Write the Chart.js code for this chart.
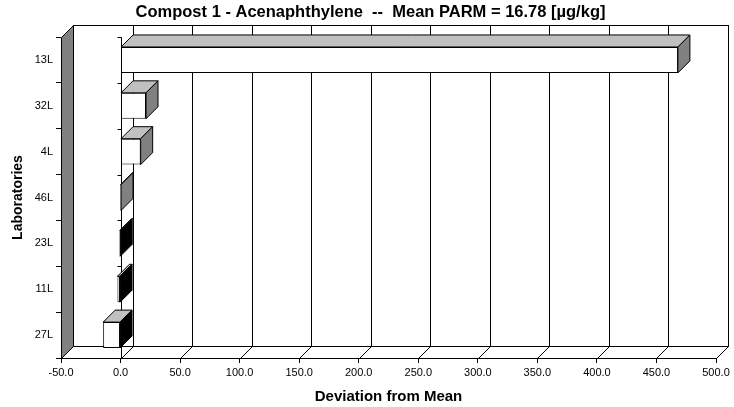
<!DOCTYPE html>
<html>
<head>
<meta charset="utf-8">
<script src="https://cdn.jsdelivr.net/npm/chart.js@4"></script>
<style>
  html, body { margin: 0; padding: 0; background: #fff; }
  #wrap { width: 734px; height: 407px; }
</style>
</head>
<body>
<div id="wrap"><canvas id="devChart"></canvas></div>
<script>
const labs = ['13L', '32L', '4L', '46L', '23L', '11L', '27L'];
const deviation = [468.0, 21.4, 16.9, 0.1, -0.3, -2.6, -14.6];
const xMin = -50, xMax = 500, xStep = 50;

const FONT = 'Arial, "Liberation Sans", sans-serif';
const depth = 12;

function poly(ctx, pts, fill) {
    ctx.beginPath();
    ctx.moveTo(pts[0][0], pts[0][1]);
    for (let i = 1; i < pts.length; i++) ctx.lineTo(pts[i][0], pts[i][1]);
    ctx.closePath();
    if (fill) { ctx.fillStyle = fill; ctx.fill(); }
    ctx.stroke();
}

function line(ctx, x1, y1, x2, y2) {
    ctx.beginPath();
    ctx.moveTo(x1, y1);
    ctx.lineTo(x2, y2);
    ctx.stroke();
}

const snap = v => Math.round(v) + 0.5;

// back wall, floor, side wall and the zero line, behind the bars
const walls = {
    id: 'walls',
    beforeDatasetsDraw(chart) {
        const { ctx, chartArea: a, scales: { x } } = chart;
        const L = snap(a.left), R = snap(a.right), T = snap(a.top), B = snap(a.bottom);
        const d = depth;
        ctx.save();
        ctx.strokeStyle = '#000';
        ctx.lineWidth = 1;

        ctx.fillStyle = '#fff';
        ctx.fillRect(L + d, T - d, R - L, B - T);
        ctx.strokeRect(L + d, T - d, R - L, B - T);
        poly(ctx, [[L, B], [R, B], [R + d, B - d], [L + d, B - d]], '#fff');

        x.ticks.forEach(t => {
            const px = snap(x.getPixelForValue(t.value));
            line(ctx, px + d, T - d, px + d, B - d);
            line(ctx, px, B, px + d, B - d);
        });

        poly(ctx, [[L, T], [L + d, T - d], [L + d, B - d], [L, B]], '#808080');
        line(ctx, L, B, R, B);

        const x0 = snap(x.getPixelForValue(0));
        line(ctx, x0, T, x0, B);
        const step = (a.bottom - a.top) / labs.length;
        for (let i = 0; i <= labs.length; i++) {
            const py = snap(a.top + i * step);
            line(ctx, x0 - 4, py, x0, py);
        }
        ctx.restore();
    },
    // top and end faces of each bar
    afterDatasetsDraw(chart) {
        const { ctx } = chart;
        const d = depth;
        const meta = chart.getDatasetMeta(0);
        ctx.save();
        ctx.strokeStyle = '#000';
        ctx.lineWidth = 1;
        meta.data.forEach((bar, i) => {
            const p = bar.getProps(['x', 'base', 'y', 'height'], true);
            const l = Math.min(p.x, p.base), r = Math.max(p.x, p.base);
            const t = p.y - p.height / 2, b = p.y + p.height / 2;
            poly(ctx, [[l, t], [r, t], [r + d, t - d], [l + d, t - d]], '#c0c0c0');
            poly(ctx, [[r, t], [r + d, t - d], [r + d, b - d], [r, b]],
                deviation[i] < 0 ? '#000' : '#808080');
        });
        ctx.restore();
    }
};

const ctx = document.getElementById('devChart').getContext('2d');
new Chart(ctx, {
    type: 'bar',
    data: {
        labels: labs,
        datasets: [{
            label: 'Deviation',
            data: deviation,
            backgroundColor: '#fff',
            borderColor: '#000',
            borderWidth: 1,
            borderSkipped: false,
            categoryPercentage: 1,
            barPercentage: 0.565
        }]
    },
    plugins: [walls],
    options: {
        indexAxis: 'y',
        responsive: true,
        maintainAspectRatio: false,
        animation: false,
        layout: { padding: { top: 0, right: 0, bottom: 0, left: 7 } },
        plugins: {
            legend: { display: false },
            tooltip: { enabled: false },
            title: {
                display: true,
                text: 'Compost 1 - Acenaphthylene  --  Mean PARM = 16.78 [µg/kg]',
                color: '#000',
                font: { family: FONT, size: 16.5, weight: 'bold' },
                padding: { top: 2.5, bottom: 14.7 }
            }
        },
        scales: {
            x: {
                type: 'linear',
                min: xMin,
                max: xMax,
                // room on the right for the depth of the walls
                afterFit: s => { s.height = 49; s.paddingRight = 18; },
                ticks: {
                    stepSize: xStep,
                    color: '#000',
                    font: { family: FONT, size: 11 },
                    padding: 3,
                    maxRotation: 0,
                    callback: v => v.toFixed(1)
                },
                grid: { drawOnChartArea: false, drawTicks: true, tickLength: 5, color: '#000' },
                border: { display: false },
                title: {
                    display: true,
                    text: 'Deviation from Mean',
                    color: '#000',
                    font: { family: FONT, size: 15, weight: 'bold' },
                    padding: { top: 2, bottom: 1 }
                }
            },
            y: {
                afterFit: s => { s.width = 54; },
                ticks: {
                    color: '#000',
                    font: { family: FONT, size: 11 },
                    padding: 3
                },
                grid: { offset: true, drawOnChartArea: false, drawTicks: true, tickLength: 5, color: '#000' },
                border: { display: false },
                title: {
                    display: true,
                    text: 'Laboratories',
                    color: '#000',
                    font: { family: FONT, size: 14, weight: 'bold' },
                    padding: { top: 3, bottom: 4 }
                }
            }
        }
    }
});
</script>
</body>
</html>
